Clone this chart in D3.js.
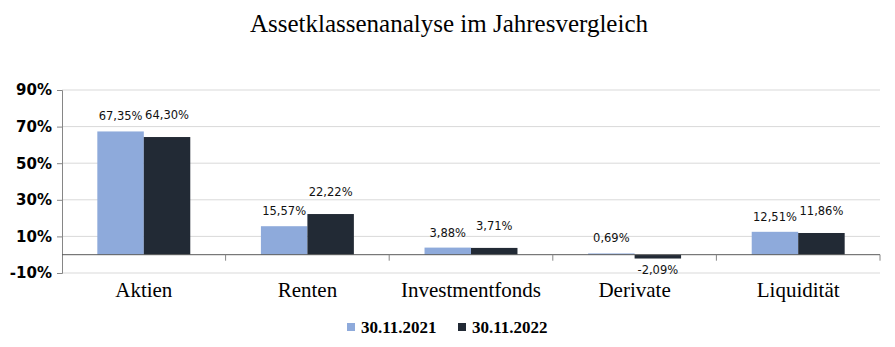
<!DOCTYPE html>
<html><head><meta charset="utf-8">
<script src="https://cdn.jsdelivr.net/npm/d3@7"></script>
<style>body{margin:0;background:#fff}svg{display:block}</style>
</head><body>
<svg id="c" width="895" height="347"></svg>
<script>
const title = "Assetklassenanalyse im Jahresvergleich";
const categories = ["Aktien","Renten","Investmentfonds","Derivate","Liquidität"];
const seriesNames = ["30.11.2021","30.11.2022"];
const values2021 = [67.35,15.57,3.88,0.69,12.51];
const values2022 = [64.30,22.22,3.71,-2.09,11.86];
const yTicks = [90,70,50,30,10,-10];
const colors = ["#8eaadb","#222a35"];

const svg = d3.select("#c");
const L = 62, R = 880, T = 90, B = 273;
const x = d3.scaleBand().domain(categories).range([L,R]).paddingInner(0).paddingOuter(0);
const y = d3.scaleLinear().domain([-10,90]).range([B,T]);
const x1 = d3.scaleBand().domain(seriesNames).range([0,x.bandwidth()]).paddingInner(0).paddingOuter(0.76);
const fmt = v => d3.format(".2f")(v).replace(".",",").replace("\u2212","-") + "%";

// gridlines
svg.append("g").selectAll("line").data(yTicks).join("line")
  .attr("x1",L).attr("x2",R).attr("y1",d=>y(d)).attr("y2",d=>y(d))
  .attr("stroke","#d9d9d9").attr("stroke-width",1);

// y axis
const yAxis = d3.axisLeft(y).tickValues(yTicks).tickFormat(d=>(d<0?"-":"")+Math.abs(d)+"%").tickSize(5).tickPadding(5);
const gy = svg.append("g").attr("transform",`translate(${L},0)`).call(yAxis);
gy.select(".domain").attr("stroke","#868686");
gy.selectAll(".tick line").attr("stroke","#868686");
gy.selectAll("text").attr("font-family","'DejaVu Sans',Verdana,sans-serif").attr("font-weight","bold")
  .attr("font-size","15px").attr("fill","#000");

// bars
const series = [values2021, values2022];
series.forEach((vals,si)=>{
  svg.append("g").selectAll("rect").data(categories).join("rect")
    .attr("x",(c)=>x(c)+x1(seriesNames[si]))
    .attr("width",x1.bandwidth())
    .attr("y",(c,i)=>y(Math.max(0,vals[i])))
    .attr("height",(c,i)=>Math.abs(y(vals[i])-y(0)))
    .attr("fill",colors[si]);
});

// zero axis
svg.append("line").attr("x1",L).attr("x2",R).attr("y1",y(0)).attr("y2",y(0))
  .attr("stroke","#595959").attr("stroke-width",1);
svg.append("g").selectAll("line").data(categories).join("line")
  .attr("x1",c=>x(c)+x.bandwidth()).attr("x2",c=>x(c)+x.bandwidth())
  .attr("y1",y(0)).attr("y2",y(0)+6).attr("stroke","#868686");

// data labels
const labelOffset = [15,22];
series.forEach((vals,si)=>{
  svg.append("g").selectAll("text").data(categories).join("text")
    .attr("x",c=>x(c)+x1(seriesNames[si])+x1.bandwidth()/2)
    .attr("y",(c,i)=> vals[i]>=0 ? y(vals[i])-labelOffset[si] : y(vals[i])+11)
    .attr("dy","0.35em")
    .attr("text-anchor","middle")
    .attr("font-family","'DejaVu Sans',Verdana,sans-serif").attr("font-size","11.5px")
    .attr("fill","#111")
    .text((c,i)=>fmt(vals[i]));
});

// category labels
svg.append("g").selectAll("text").data(categories).join("text")
  .attr("x",c=>x(c)+x.bandwidth()/2).attr("y",297)
  .attr("text-anchor","middle")
  .attr("font-family","'Liberation Serif',Cambria,serif").attr("font-size","21px")
  .attr("fill","#000").text(c=>c);

// title
svg.append("text").attr("x",449).attr("y",32).attr("text-anchor","middle")
  .attr("font-family","'Liberation Serif',Cambria,serif").attr("font-size","25px")
  .attr("fill","#000").text(title);

// legend
const lg = svg.append("g");
const legX = [347,458];
seriesNames.forEach((s,i)=>{
  lg.append("rect").attr("x",legX[i]).attr("y",323).attr("width",8).attr("height",8).attr("fill",colors[i]);
  lg.append("text").attr("x",legX[i]+14).attr("y",327).attr("dy","0.35em")
    .attr("font-family","'Liberation Serif',Cambria,serif").attr("font-weight","bold").attr("font-size","17px")
    .attr("fill","#000").text(s);
});
</script>
</body></html>
